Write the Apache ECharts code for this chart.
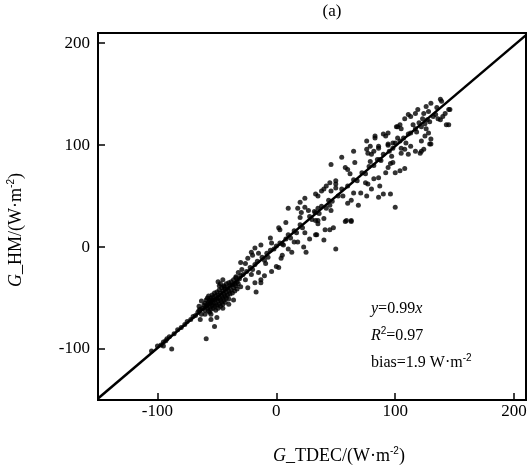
<!DOCTYPE html>
<html>
<head>
<meta charset="utf-8">
<script src="https://cdn.jsdelivr.net/npm/echarts@6/dist/echarts.min.js"></script>
<style>html,body{margin:0;padding:0;background:#fff;}#c{width:530px;height:466px;}</style>
</head>
<body>
<div id="c"></div>
<script>
// ---- data (x = G_TDEC, y = G_HM, W·m-2) ----
const axisTicks = [-100, 0, 100, 200];
const fitLine = [[-150, -148.5], [210, 207.9]];

const lowTail = [[-105,-102],[-100,-97],[-97,-96],[-95,-93],[-93,-92],[-92,-90],[-90,-88],[-86,-85],[-83,-81],[-80,-79],[-77,-76],[-75,-73],[-72,-71],[-70,-68],[-68,-67],[-66,-64],[-65,-62],[-64,-61],[-95,-97]];

const denseCluster = [[-62,-60],[-61,-57],[-60,-62],[-60,-55],[-59,-58],[-59,-52],[-58,-60],[-58,-56],[-58,-50],[-57,-63],[-57,-54],[-57,-48],[-56,-59],[-56,-52],[-56,-56],[-55,-61],[-55,-50],[-55,-54],[-54,-57],[-54,-47],[-54,-52],[-53,-60],[-53,-55],[-53,-49],[-52,-58],[-52,-52],[-52,-45],[-51,-62],[-51,-55],[-51,-48],[-50,-57],[-50,-51],[-50,-44],[-49,-60],[-49,-53],[-49,-47],[-48,-56],[-48,-50],[-48,-42],[-47,-58],[-47,-52],[-47,-45],[-46,-54],[-46,-48],[-46,-40],[-45,-56],[-45,-50],[-45,-43],[-44,-52],[-44,-46],[-44,-38],[-43,-54],[-43,-48],[-43,-41],[-42,-50],[-42,-44],[-42,-36],[-41,-47],[-41,-40],[-40,-51],[-40,-43],[-40,-35],[-39,-46],[-39,-38],[-38,-42],[-38,-34],[-37,-45],[-37,-37],[-36,-40],[-36,-32],[-35,-43],[-35,-36],[-34,-38],[-34,-30],[-33,-41],[-33,-34],[-32,-36],[-31,-31],[-30,-39],[-30,-28],[-49,-34],[-47,-36],[-45,-32],[-44,-39],[-48,-38],[-65,-58],[-63,-53]];

const clusterOutliers = [[-63,-66],[-60,-66],[-56,-64],[-55,-66],[-50,-69],[-55,-71],[-52,-78],[-59,-90],[-88,-100],[-64,-71],[-45,-60],[-40,-56],[-36,-52]];

const midBand = [[-29,-22],[-32,-25],[-34,-29],[-21,-27],[-15,-25],[-4,-24],[-13,-32],[-18,-35],[-17,-44],[-13,-35],[-24,-11],[-26,-16],[-18,-17],[-9,-16],[0,-19],[-7,-10],[4,-11],[-13,2],[-18,-1],[-21,-5],[-15,-6],[-5,9],[-4,4],[6,2],[13,-5],[23,0],[25,-5],[8,24],[2,19],[3,17],[24,14],[34,12],[18,5],[20,29],[33,26],[35,23],[41,17],[10,38],[18,38],[2,-20],[50,-2],[40,7],[45,17],[33,12],[58,25],[63,25],[-28,-27],[-25,-24],[-22,-20],[-20,-22],[-16,-14],[-12,-10],[-10,-13],[-8,-6],[-5,-3],[-2,-2],[0,1],[3,4],[5,3],[8,8],[10,12],[12,9],[15,16],[17,14],[20,22],[22,19],[28,30],[30,27],[32,35],[36,33],[38,40],[42,38],[44,46],[47,45],[52,50],[55,57],[-30,-15],[-26,-32],[-10,-28],[5,-8],[10,-2],[15,5],[28,8],[-24,-40],[-20,-8]];

const upperBand = [[24,48],[20,44],[33,52],[35,50],[40,57],[38,55],[42,60],[45,63],[50,65],[50,62],[50,58],[46,55],[24,39],[21,34],[27,36],[35,38],[33,34],[45,41],[46,36],[40,28],[35,26],[59,26],[63,26],[48,19],[56,50],[65,53],[63,46],[60,43],[69,41],[100,39],[71,53],[76,50],[86,49],[90,52],[96,52],[80,57],[87,60],[75,63],[77,62],[82,67],[86,68],[92,73],[100,73],[104,75],[108,77],[94,78],[96,82],[79,84],[87,86],[66,83],[58,78],[60,76],[62,72],[46,81],[55,88],[65,94],[76,96],[77,92],[80,91],[86,99],[94,100],[76,104],[83,107],[102,107],[100,102],[108,96],[60,60],[65,66],[68,65],[72,73],[75,72],[78,79],[82,80],[85,86],[88,85],[90,91],[95,94],[98,97]];

const topCluster = [[138,145],[130,141],[126,138],[145,135],[119,135],[124,131],[117,131],[113,128],[108,126],[111,130],[134,130],[136,126],[138,125],[142,131],[129,123],[125,121],[122,118],[126,116],[128,112],[125,109],[130,106],[130,101],[143,120],[122,104],[124,96],[104,120],[101,118],[105,116],[117,116],[118,113],[113,112],[111,111],[107,107],[104,104],[94,112],[92,109],[90,111],[83,109],[98,102],[94,101],[109,102],[113,99],[117,94],[121,92],[105,97],[105,92],[111,91],[79,99],[82,94],[86,97],[97,89],[98,83],[139,143],[146,135],[145,120],[129,101],[122,94],[120,122],[115,120],[132,128],[128,133],[135,137],[140,128],[127,125],[123,126],[102,118]];

const points = [].concat(lowTail, denseCluster, clusterOutliers, midBand, upperBand, topCluster);

const FONT = '"Liberation Serif", "Times New Roman", serif';
const chart = echarts.init(document.getElementById('c'), null, {renderer: 'canvas'});

const axisCommon = {
  type: 'value', min: -150, max: 210,
  axisLine: {show: true, onZero: false, lineStyle: {color: '#000', width: 2}},
  axisTick: {show: true, inside: true, length: 7, customValues: axisTicks, lineStyle: {color: '#000', width: 1.5}},
  splitLine: {show: false},
  axisLabel: {customValues: axisTicks, color: '#000', fontFamily: FONT, fontSize: 17}
};

const sup = {fontSize: 10, verticalAlign: 'top', padding: [0, 0, 9, 0]};

chart.setOption({
  animation: false,
  backgroundColor: '#fff',
  grid: {left: 98, right: 4, top: 33, bottom: 66, show: true, borderColor: '#000', borderWidth: 2, containLabel: false},
  xAxis: Object.assign({}, axisCommon, {axisLabel: Object.assign({}, axisCommon.axisLabel, {margin: 3})}),
  yAxis: Object.assign({}, axisCommon, {axisLabel: Object.assign({}, axisCommon.axisLabel, {margin: 8})}),
  series: [
    {type: 'scatter', data: points, symbolSize: 5, itemStyle: {color: '#000'}, z: 2},
    {type: 'line', data: fitLine, showSymbol: false, lineStyle: {color: '#000', width: 2.5}, z: 3}
  ],
  graphic: [
    {type: 'text', x: 332, y: 12, style: {text: '(a)', font: '17px ' + FONT, fill: '#000', align: 'center', verticalAlign: 'middle'}},
    {type: 'text', x: 339, y: 456, style: {text: '{i|G}_TDEC/(W·m{s|-2})', font: '18px ' + FONT, fill: '#000', align: 'center', verticalAlign: 'middle',
      rich: {i: {font: 'italic 18px ' + FONT}, s: sup}}},
    {type: 'text', x: 16, y: 230, rotation: Math.PI / 2, style: {text: '{i|G}_HM/(W·m{s|-2})', font: '18px ' + FONT, fill: '#000', align: 'center', verticalAlign: 'middle',
      rich: {i: {font: 'italic 18px ' + FONT}, s: sup}}},
    {type: 'text', x: 371, y: 309, style: {text: '{i|y}=0.99{i|x}', font: '16px ' + FONT, fill: '#000', verticalAlign: 'middle',
      rich: {i: {font: 'italic 16px ' + FONT}}}},
    {type: 'text', x: 371, y: 336, style: {text: '{i|R}{s|2}=0.97', font: '16px ' + FONT, fill: '#000', verticalAlign: 'middle',
      rich: {i: {font: 'italic 16px ' + FONT}, s: sup}}},
    {type: 'text', x: 371, y: 363, style: {text: 'bias=1.9 W·m{s|-2}', font: '16px ' + FONT, fill: '#000', verticalAlign: 'middle',
      rich: {s: sup}}}
  ]
});
</script>
</body>
</html>
